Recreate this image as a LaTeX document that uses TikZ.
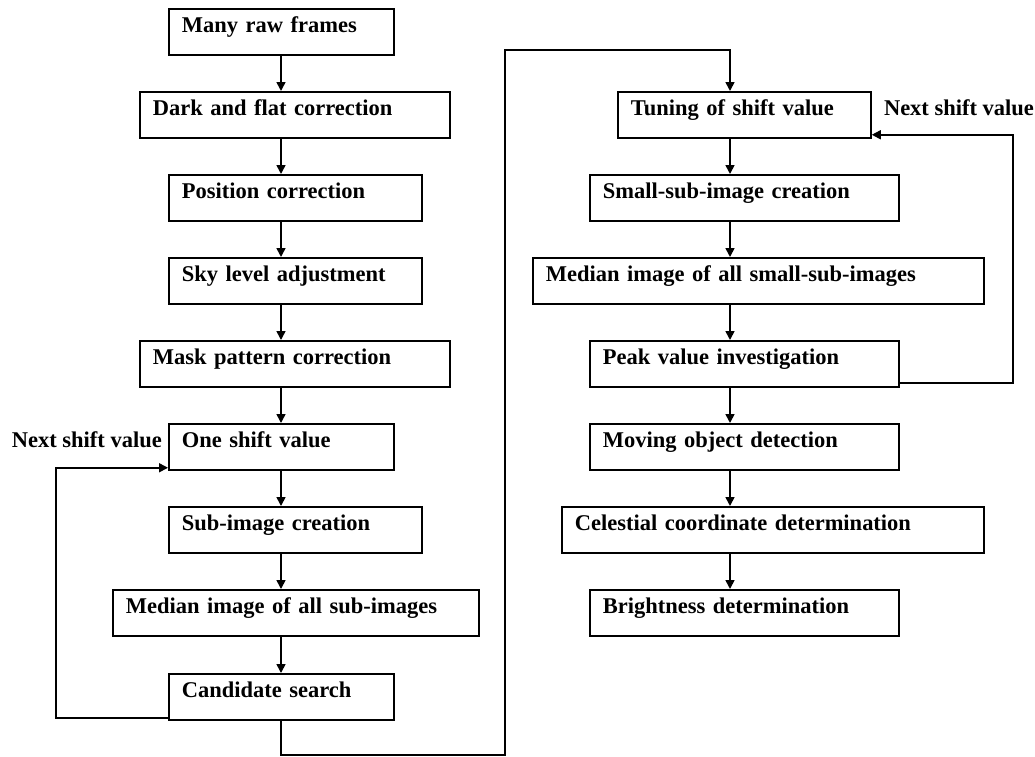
\documentclass[tikz,border=0pt]{standalone}
\usepackage{fontspec}
\setmainfont{Liberation Serif}
\usepackage{tikz}
\usetikzlibrary{arrows.meta}

\begin{document}
\begin{tikzpicture}
[
x=0.03cm,y=-0.03cm,
stepbox/.style={draw,line width=1.5pt,anchor=north west,align=left,
            inner xsep=0.39cm,inner ysep=0pt,minimum height=1.38cm,
            text height=0.45cm,text depth=0.39cm,text width=#1,
            font=\fontsize{19.2pt}{23pt}\selectfont\bfseries},
flow/.style={line width=1.4pt,-{Triangle[width=0.27cm,length=0.27cm]}},
wire/.style={line width=1.4pt},
note/.style={inner sep=0pt,font=\fontsize{19.2pt}{23pt}\selectfont\bfseries},
]
\useasboundingbox (0,0) rectangle (1035,757);

%Place the nodes
\node[stepbox=5.97cm] (raw) at (168,8) {Many raw frames};
\node[stepbox=8.52cm] (dark) at (139,91) {Dark and flat correction};
\node[stepbox=6.81cm] (pos) at (168,174) {Position correction};
\node[stepbox=6.81cm] (sky) at (168,257) {Sky level adjustment};
\node[stepbox=8.52cm] (mask) at (139,340) {Mask pattern correction};
\node[stepbox=5.97cm] (one) at (168,423) {One shift value};
\node[stepbox=6.81cm] (sub) at (168,506) {Sub-image creation};
\node[stepbox=10.2cm] (med) at (112,589) {Median image of all sub-images};
\node[stepbox=5.97cm] (cand) at (168,673) {Candidate search};

\node[stepbox=6.81cm] (tune) at (617,91) {Tuning of shift value};
\node[stepbox=8.49cm] (small) at (589,174) {Small-sub-image creation};
\node[stepbox=12.75cm] (medsm) at (532,257) {Median image of all small-sub-images};
\node[stepbox=8.49cm] (peak) at (589,340) {Peak value investigation};
\node[stepbox=8.49cm] (move) at (589,423) {Moving object detection};
\node[stepbox=11.88cm] (cel) at (561,506) {Celestial coordinate determination};
\node[stepbox=8.49cm] (bright) at (589,589) {Brightness determination};

\node[note,anchor=base east] (nextL) at ([xshift=-0.18cm]one.base west) {Next shift value};
\node[note,anchor=base west] (nextR) at ([xshift=0.36cm]tune.base east) {Next shift value};

\coordinate (lx) at (281,0);
\coordinate (rx) at (730,0);
\coordinate (bot) at (505,755);
\coordinate (top) at (505,50);

%Draw the connections
\draw[flow] (raw.south -| lx) -- (dark.north -| lx);
\draw[flow] (dark.south -| lx) -- (pos.north -| lx);
\draw[flow] (pos.south -| lx) -- (sky.north -| lx);
\draw[flow] (sky.south -| lx) -- (mask.north -| lx);
\draw[flow] (mask.south -| lx) -- (one.north -| lx);
\draw[flow] (one.south -| lx) -- (sub.north -| lx);
\draw[flow] (sub.south -| lx) -- (med.north -| lx);
\draw[flow] (med.south -| lx) -- (cand.north -| lx);
\draw[flow] ([yshift=0.09cm]cand.south west) -- ++(-112,0) |- ([yshift=0.09cm]one.south west);
\draw[flow] (cand.south -| lx) |- (bot) -- (top) -| (tune.north -| rx);
\draw[flow] (tune.south -| rx) -- (small.north -| rx);
\draw[flow] (small.south -| rx) -- (medsm.north -| rx);
\draw[flow] (medsm.south -| rx) -- (peak.north -| rx);
\draw[flow] (peak.south -| rx) -- (move.north -| rx);
\draw[flow] (move.south -| rx) -- (cel.north -| rx);
\draw[flow] (cel.south -| rx) -- (bright.north -| rx);
\draw[flow] ([yshift=0.15cm]peak.south east) -- ++(113,0) |- ([yshift=0.12cm]tune.south east);
\end{tikzpicture}
\end{document}
